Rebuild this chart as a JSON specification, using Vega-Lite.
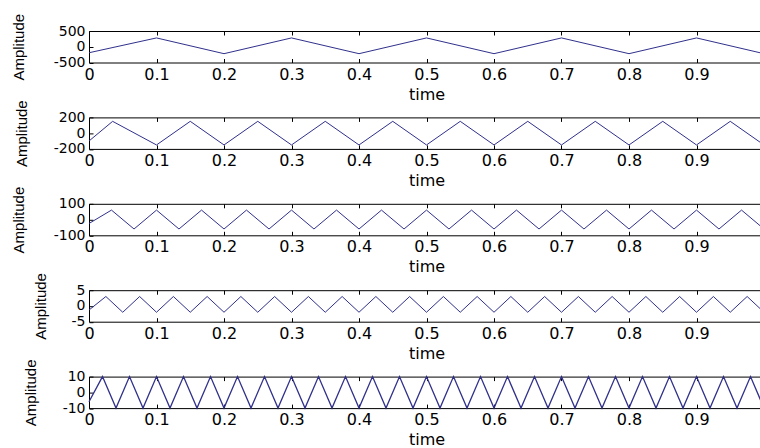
{
  "$schema": "https://vega.github.io/schema/vega-lite/v6.json",
  "background": "white",
  "padding": {"left": 10, "top": 12, "right": 0, "bottom": 0},
  "spacing": 54.4,
  "bounds": "flush",
  "config": {
    "view": {"stroke": "black", "strokeWidth": 1},
    "axis": {
      "labelFont": "DejaVu Sans", "labelFontSize": 16, "labelColor": "black",
      "labelOverlap": false, "labelFlush": false, "labelBound": false,
      "titleFont": "Liberation Sans", "titleFontSize": 15, "titleFontWeight": "normal", "titleColor": "black",
      "tickColor": "black", "tickSize": -4, "grid": false, "domain": false
    },
    "axisBottom": {"labelPadding": 7.5, "titleFont": "DejaVu Sans", "titleFontSize": 16, "titlePadding": 4},
    "axisLeft": {"labelPadding": 8, "labelFontSize": 14}
  },
  "datasets": {
    "p1": [{"t":0,"v":-190},{"t":0.1,"v":280},{"t":0.2,"v":-220},{"t":0.3,"v":280},{"t":0.4,"v":-220},{"t":0.5,"v":280},{"t":0.6,"v":-220},{"t":0.7,"v":280},{"t":0.8,"v":-220},{"t":0.9,"v":280},{"t":1.0,"v":-220}],
    "p2": [{"t":0,"v":-100},{"t":0.035,"v":150},{"t":0.1,"v":-150},{"t":0.15,"v":150},{"t":0.2,"v":-150},{"t":0.25,"v":150},{"t":0.3,"v":-150},{"t":0.35,"v":150},{"t":0.4,"v":-150},{"t":0.45,"v":150},{"t":0.5,"v":-150},{"t":0.55,"v":150},{"t":0.6,"v":-150},{"t":0.65,"v":150},{"t":0.7,"v":-150},{"t":0.75,"v":150},{"t":0.8,"v":-150},{"t":0.85,"v":150},{"t":0.9,"v":-150},{"t":0.95,"v":150},{"t":1.0,"v":-150}],
    "p3": [{"t":0,"v":-25},{"t":0.0333,"v":60},{"t":0.0667,"v":-60},{"t":0.1,"v":60},{"t":0.1333,"v":-60},{"t":0.1667,"v":60},{"t":0.2,"v":-60},{"t":0.2333,"v":60},{"t":0.2667,"v":-60},{"t":0.3,"v":60},{"t":0.3333,"v":-60},{"t":0.3667,"v":60},{"t":0.4,"v":-60},{"t":0.4333,"v":60},{"t":0.4667,"v":-60},{"t":0.5,"v":60},{"t":0.5333,"v":-60},{"t":0.5667,"v":60},{"t":0.6,"v":-60},{"t":0.6333,"v":60},{"t":0.6667,"v":-60},{"t":0.7,"v":60},{"t":0.7333,"v":-60},{"t":0.7667,"v":60},{"t":0.8,"v":-60},{"t":0.8333,"v":60},{"t":0.8667,"v":-60},{"t":0.9,"v":60},{"t":0.9333,"v":-60},{"t":0.9667,"v":60},{"t":1.0,"v":-60}],
    "p4": [{"t":0,"v":-1.3},{"t":0.025,"v":3},{"t":0.05,"v":-2},{"t":0.075,"v":3},{"t":0.1,"v":-2},{"t":0.125,"v":3},{"t":0.15,"v":-2},{"t":0.175,"v":3},{"t":0.2,"v":-2},{"t":0.225,"v":3},{"t":0.25,"v":-2},{"t":0.275,"v":3},{"t":0.3,"v":-2},{"t":0.325,"v":3},{"t":0.35,"v":-2},{"t":0.375,"v":3},{"t":0.4,"v":-2},{"t":0.425,"v":3},{"t":0.45,"v":-2},{"t":0.475,"v":3},{"t":0.5,"v":-2},{"t":0.525,"v":3},{"t":0.55,"v":-2},{"t":0.575,"v":3},{"t":0.6,"v":-2},{"t":0.625,"v":3},{"t":0.65,"v":-2},{"t":0.675,"v":3},{"t":0.7,"v":-2},{"t":0.725,"v":3},{"t":0.75,"v":-2},{"t":0.775,"v":3},{"t":0.8,"v":-2},{"t":0.825,"v":3},{"t":0.85,"v":-2},{"t":0.875,"v":3},{"t":0.9,"v":-2},{"t":0.925,"v":3},{"t":0.95,"v":-2},{"t":0.975,"v":3},{"t":1.0,"v":-2}],
    "p5": [{"t":0,"v":-6},{"t":0.02,"v":10},{"t":0.04,"v":-10},{"t":0.06,"v":10},{"t":0.08,"v":-10},{"t":0.1,"v":10},{"t":0.12,"v":-10},{"t":0.14,"v":10},{"t":0.16,"v":-10},{"t":0.18,"v":10},{"t":0.2,"v":-10},{"t":0.22,"v":10},{"t":0.24,"v":-10},{"t":0.26,"v":10},{"t":0.28,"v":-10},{"t":0.3,"v":10},{"t":0.32,"v":-10},{"t":0.34,"v":10},{"t":0.36,"v":-10},{"t":0.38,"v":10},{"t":0.4,"v":-10},{"t":0.42,"v":10},{"t":0.44,"v":-10},{"t":0.46,"v":10},{"t":0.48,"v":-10},{"t":0.5,"v":10},{"t":0.52,"v":-10},{"t":0.54,"v":10},{"t":0.56,"v":-10},{"t":0.58,"v":10},{"t":0.6,"v":-10},{"t":0.62,"v":10},{"t":0.64,"v":-10},{"t":0.66,"v":10},{"t":0.68,"v":-10},{"t":0.7,"v":10},{"t":0.72,"v":-10},{"t":0.74,"v":10},{"t":0.76,"v":-10},{"t":0.78,"v":10},{"t":0.8,"v":-10},{"t":0.82,"v":10},{"t":0.84,"v":-10},{"t":0.86,"v":10},{"t":0.88,"v":-10},{"t":0.9,"v":10},{"t":0.92,"v":-10},{"t":0.94,"v":10},{"t":0.96,"v":-10},{"t":0.98,"v":10},{"t":1.0,"v":-10}]
  },
  "vconcat": [
    {
      "data": {"name": "p1"}, "width": 675, "height": 31.5,
      "layer": [
        {"mark": {"type": "line", "color": "#30308c", "strokeWidth": 1},
         "encoding": {
           "x": {"field": "t", "type": "quantitative", "scale": {"domain": [0, 1], "nice": false},
                 "axis": {"orient": "bottom", "values": [0,0.1,0.2,0.3,0.4,0.5,0.6,0.7,0.8,0.9], "labelExpr": "datum.value == 0 ? '0' : format(datum.value, '.1f')", "title": "time"}},
           "y": {"field": "v", "type": "quantitative", "scale": {"domain": [-500, 500], "nice": false},
                 "axis": {"orient": "left", "values": [-500, 0, 500], "labelExpr": "datum.value < 0 ? '-' + abs(datum.value) : '' + datum.value", "title": "Amplitude", "titleX": -63}}
         }},
        {"mark": {"type": "line", "opacity": 0},
         "encoding": {
           "x": {"field": "t", "type": "quantitative", "axis": {"orient": "top", "values": [0,0.1,0.2,0.3,0.4,0.5,0.6,0.7,0.8,0.9], "labels": false, "title": null}},
           "y": {"field": "v", "type": "quantitative", "axis": {"orient": "right", "values": [-500, 0, 500], "labels": false, "title": null}}
         }}
      ],
      "resolve": {"axis": {"x": "independent", "y": "independent"}}
    },
    {
      "data": {"name": "p2"}, "width": 675, "height": 31.5,
      "layer": [
        {"mark": {"type": "line", "color": "#30308c", "strokeWidth": 1},
         "encoding": {
           "x": {"field": "t", "type": "quantitative", "scale": {"domain": [0, 1], "nice": false},
                 "axis": {"orient": "bottom", "values": [0,0.1,0.2,0.3,0.4,0.5,0.6,0.7,0.8,0.9], "labelExpr": "datum.value == 0 ? '0' : format(datum.value, '.1f')", "title": "time"}},
           "y": {"field": "v", "type": "quantitative", "scale": {"domain": [-200, 200], "nice": false},
                 "axis": {"orient": "left", "values": [-200, 0, 200], "labelExpr": "datum.value < 0 ? '-' + abs(datum.value) : '' + datum.value", "title": "Amplitude", "titleX": -60}}
         }},
        {"mark": {"type": "line", "opacity": 0},
         "encoding": {
           "x": {"field": "t", "type": "quantitative", "axis": {"orient": "top", "values": [0,0.1,0.2,0.3,0.4,0.5,0.6,0.7,0.8,0.9], "labels": false, "title": null}},
           "y": {"field": "v", "type": "quantitative", "axis": {"orient": "right", "values": [-200, 0, 200], "labels": false, "title": null}}
         }}
      ],
      "resolve": {"axis": {"x": "independent", "y": "independent"}}
    },
    {
      "data": {"name": "p3"}, "width": 675, "height": 31.5,
      "layer": [
        {"mark": {"type": "line", "color": "#30308c", "strokeWidth": 1},
         "encoding": {
           "x": {"field": "t", "type": "quantitative", "scale": {"domain": [0, 1], "nice": false},
                 "axis": {"orient": "bottom", "values": [0,0.1,0.2,0.3,0.4,0.5,0.6,0.7,0.8,0.9], "labelExpr": "datum.value == 0 ? '0' : format(datum.value, '.1f')", "title": "time"}},
           "y": {"field": "v", "type": "quantitative", "scale": {"domain": [-100, 100], "nice": false},
                 "axis": {"orient": "left", "values": [-100, 0, 100], "labelExpr": "datum.value < 0 ? '-' + abs(datum.value) : '' + datum.value", "title": "Amplitude", "titleX": -63}}
         }},
        {"mark": {"type": "line", "opacity": 0},
         "encoding": {
           "x": {"field": "t", "type": "quantitative", "axis": {"orient": "top", "values": [0,0.1,0.2,0.3,0.4,0.5,0.6,0.7,0.8,0.9], "labels": false, "title": null}},
           "y": {"field": "v", "type": "quantitative", "axis": {"orient": "right", "values": [-100, 0, 100], "labels": false, "title": null}}
         }}
      ],
      "resolve": {"axis": {"x": "independent", "y": "independent"}}
    },
    {
      "data": {"name": "p4"}, "width": 675, "height": 31.5,
      "layer": [
        {"mark": {"type": "line", "color": "#30308c", "strokeWidth": 1},
         "encoding": {
           "x": {"field": "t", "type": "quantitative", "scale": {"domain": [0, 1], "nice": false},
                 "axis": {"orient": "bottom", "values": [0,0.1,0.2,0.3,0.4,0.5,0.6,0.7,0.8,0.9], "labelExpr": "datum.value == 0 ? '0' : format(datum.value, '.1f')", "title": "time"}},
           "y": {"field": "v", "type": "quantitative", "scale": {"domain": [-5, 5], "nice": false},
                 "axis": {"orient": "left", "values": [-5, 0, 5], "labelExpr": "datum.value < 0 ? '-' + abs(datum.value) : '' + datum.value", "title": "Amplitude", "titleX": -41}}
         }},
        {"mark": {"type": "line", "opacity": 0},
         "encoding": {
           "x": {"field": "t", "type": "quantitative", "axis": {"orient": "top", "values": [0,0.1,0.2,0.3,0.4,0.5,0.6,0.7,0.8,0.9], "labels": false, "title": null}},
           "y": {"field": "v", "type": "quantitative", "axis": {"orient": "right", "values": [-5, 0, 5], "labels": false, "title": null}}
         }}
      ],
      "resolve": {"axis": {"x": "independent", "y": "independent"}}
    },
    {
      "data": {"name": "p5"}, "width": 675, "height": 31.5,
      "layer": [
        {"mark": {"type": "line", "color": "#30308c", "strokeWidth": 1.3},
         "encoding": {
           "x": {"field": "t", "type": "quantitative", "scale": {"domain": [0, 1], "nice": false},
                 "axis": {"orient": "bottom", "values": [0,0.1,0.2,0.3,0.4,0.5,0.6,0.7,0.8,0.9], "labelExpr": "datum.value == 0 ? '0' : format(datum.value, '.1f')", "title": "time"}},
           "y": {"field": "v", "type": "quantitative", "scale": {"domain": [-10, 10], "nice": false},
                 "axis": {"orient": "left", "values": [-10, 0, 10], "labelExpr": "datum.value < 0 ? '-' + abs(datum.value) : '' + datum.value", "title": "Amplitude", "titleX": -51}}
         }},
        {"mark": {"type": "line", "opacity": 0},
         "encoding": {
           "x": {"field": "t", "type": "quantitative", "axis": {"orient": "top", "values": [0,0.1,0.2,0.3,0.4,0.5,0.6,0.7,0.8,0.9], "labels": false, "title": null}},
           "y": {"field": "v", "type": "quantitative", "axis": {"orient": "right", "values": [-10, 0, 10], "labels": false, "title": null}}
         }}
      ],
      "resolve": {"axis": {"x": "independent", "y": "independent"}}
    }
  ]
}
